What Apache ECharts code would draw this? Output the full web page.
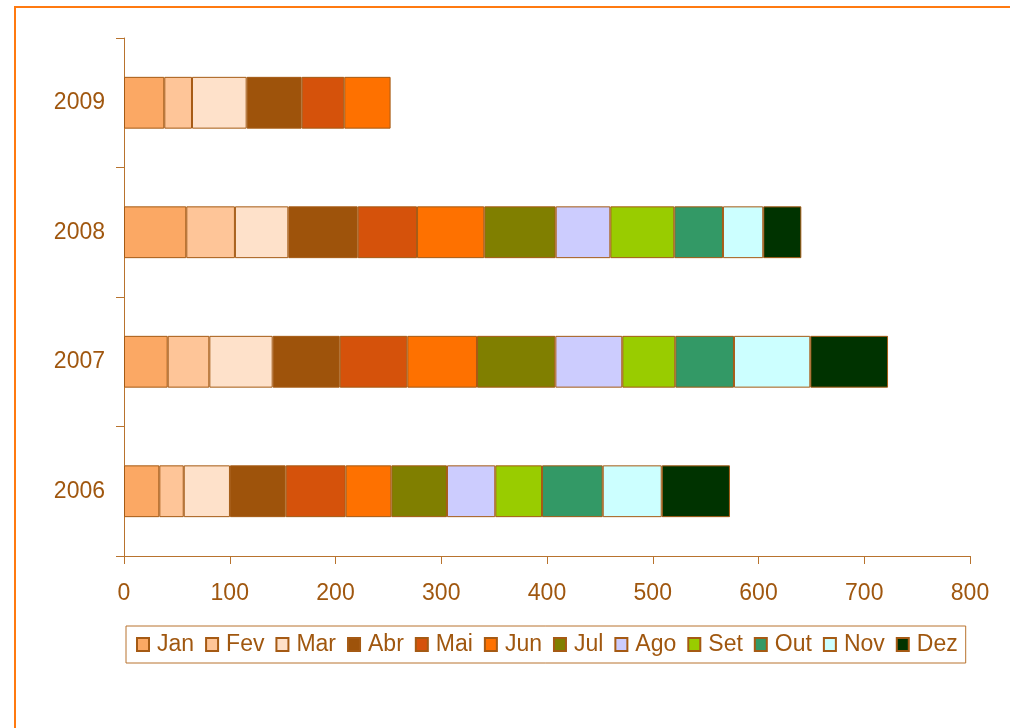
<!DOCTYPE html>
<html>
<head>
<meta charset="utf-8">
<script src="https://cdn.jsdelivr.net/npm/echarts@6/dist/echarts.min.js"></script>
<style>
  html, body { margin: 0; padding: 0; background: #ffffff; }
  #chart { width: 1010px; height: 728px; }
</style>
</head>
<body>
<div id="chart"></div>
<script>
// Years on the vertical axis (bottom to top)
const years = ['2006', '2007', '2008', '2009'];

// Monthly amounts per year, in the same order as `years`
const jan = [33.4, 41.3, 58.9, 38.1];
const fev = [23.1, 39.4, 46.0, 26.2];
const mar = [43.7, 59.9, 50.5, 51.7];
const abr = [52.7, 63.4, 65.6, 52.0];
const mai = [56.7, 63.9, 56.1, 40.3];
const jun = [43.2, 65.9, 63.6, 43.8];
const jul = [52.6, 74.1, 67.5, null];
const ago = [45.7, 63.3, 51.7, null];
const set = [44.2, 50.1, 60.5, null];
const out = [57.4, 55.5, 46.0, null];
const nov = [55.8, 72.2, 38.1, null];
const dez = [64.5, 73.5, 36.0, null];

const monthNames = ['Jan', 'Fev', 'Mar', 'Abr', 'Mai', 'Jun', 'Jul', 'Ago', 'Set', 'Out', 'Nov', 'Dez'];
const monthValues = [jan, fev, mar, abr, mai, jun, jul, ago, set, out, nov, dez];
const monthColors = ['#FBA864', '#FEC598', '#FEE1CA', '#9E530B', '#D5520B', '#FE7100',
                     '#807F00', '#CCCCFE', '#99CC00', '#339966', '#CCFFFF', '#003300'];

// X axis ticks
const xMin = 0, xMax = 800, xStep = 100;

const textColor = '#A0570F';
const axisColor = '#B8732E';

const chart = echarts.init(document.getElementById('chart'), null, { renderer: 'canvas' });

chart.setOption({
  animation: false,
  backgroundColor: '#ffffff',
  textStyle: { fontFamily: 'Liberation Sans, Arial, sans-serif' },
  graphic: [{
    type: 'rect',
    shape: { x: 15, y: 7, width: 1100, height: 1000 },
    style: { fill: 'none', stroke: '#FF7A10', lineWidth: 2 },
    silent: true
  }],
  grid: { left: 124, right: 40, top: 38, bottom: 172, containLabel: false },
  xAxis: {
    type: 'value',
    min: xMin, max: xMax, interval: xStep,
    splitLine: { show: false },
    axisLine: { show: true, lineStyle: { color: axisColor, width: 1 } },
    axisTick: { show: true, length: 8, lineStyle: { color: axisColor } },
    axisLabel: { color: textColor, fontSize: 23, margin: 26 }
  },
  yAxis: {
    type: 'category',
    data: years,
    axisLine: { show: true, lineStyle: { color: axisColor, width: 1 } },
    axisTick: { show: true, length: 8, lineStyle: { color: axisColor } },
    axisLabel: { color: textColor, fontSize: 23, margin: 19 }
  },
  legend: {
    left: 126, top: 626,
    padding: [7, 8, 7, 10],
    itemGap: 11,
    itemWidth: 12, itemHeight: 13,
    borderColor: axisColor, borderWidth: 1,
    icon: 'rect',
    textStyle: { color: textColor, fontSize: 23, padding: [0, 0, 0, 3] },
    data: monthNames
  },
  series: monthNames.map((name, i) => ({
    name: name,
    type: 'bar',
    stack: 'total',
    barWidth: '40%',
    data: monthValues[i],
    itemStyle: { color: monthColors[i], borderColor: '#A55A14', borderWidth: 1 }
  }))
});
</script>
</body>
</html>
